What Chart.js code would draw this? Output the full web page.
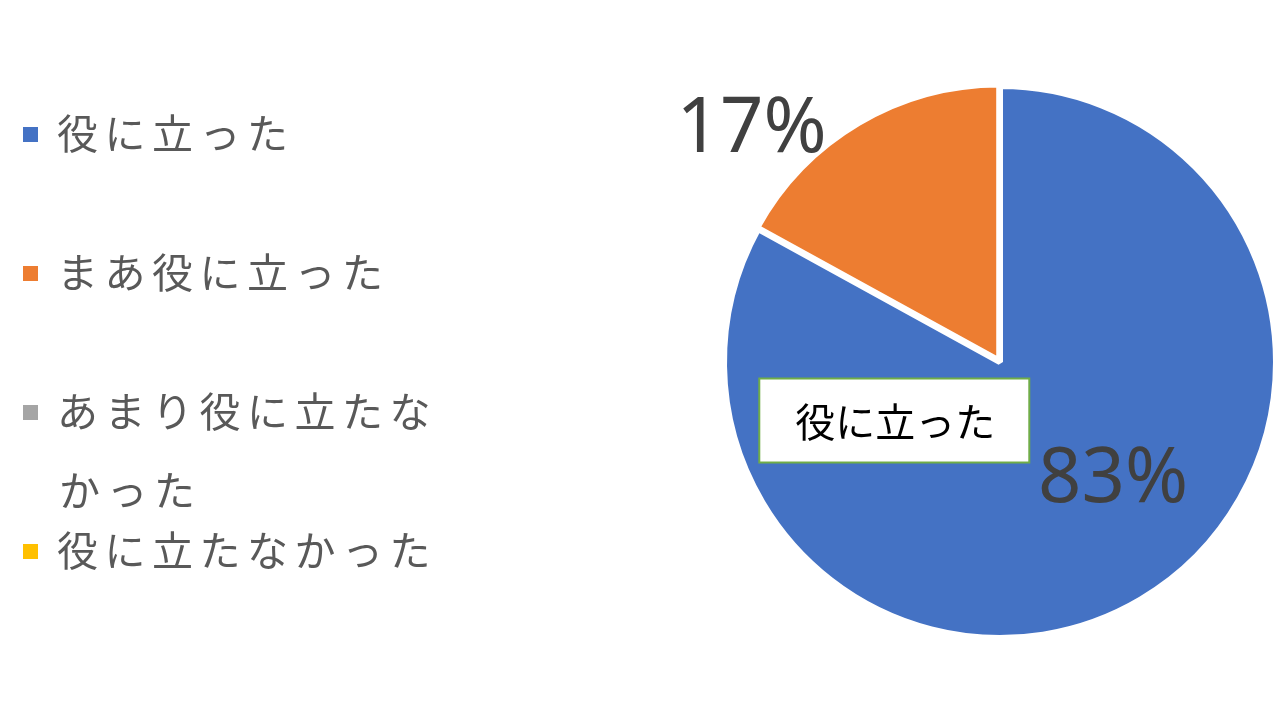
<!DOCTYPE html>
<html lang="ja">
<head>
<meta charset="utf-8">
<title>役に立ったか</title>
<script src="https://cdn.jsdelivr.net/npm/chart.js@4/dist/chart.umd.min.js"></script>
<style>
  html, body { margin: 0; padding: 0; background: #fff; }
  #wrap { width: 1280px; height: 720px; position: relative; }
</style>
</head>
<body>
<div id="wrap"><canvas id="pie" width="1280" height="720"></canvas></div>
<script>
// データ
const labels = ['役に立った', 'まあ役に立った', 'あまり役に立たなかった', '役に立たなかった']
const values = [83, 17, 0, 0]
const percentLabels = ['83%', '17%', '', '']
const colors = ['#4472C4', '#ED7D31', '#A5A5A5', '#FFC000']

const JP_FONT = '"Noto Sans CJK JP", "Noto Sans", sans-serif'

// 凡例（左側）を自前で描く
const leftLegend = {
  id: 'leftLegend',
  afterDraw(chart) {
    const ctx = chart.ctx
    const size = 41, spacing = 6.5, maxWidth = 390
    ctx.save()
    ctx.font = `${size}px ${JP_FONT}`
    ctx.textBaseline = 'middle'
    chart.data.labels.forEach((label, i) => {
      const y = 133 + i * 139
      ctx.fillStyle = chart.data.datasets[0].backgroundColor[i]
      ctx.fillRect(23, y - 6, 15, 15)

      // 一文字ずつ字間をあけて描画、幅を超えたら折り返し
      ctx.fillStyle = '#595959'
      let x = 57, line = 0
      for (const ch of label) {
        const w = ctx.measureText(ch).width + spacing
        if (x + w - 57 > maxWidth) { x = 59; line++ }
        ctx.fillText(ch, x, y + line * 79)
        x += w
      }
    })
    ctx.restore()
  }
}

// データラベルと引き出しボックス
const sliceLabels = {
  id: 'sliceLabels',
  afterDatasetsDraw(chart) {
    const ctx = chart.ctx
    const arc = chart.getDatasetMeta(0).data[0]
    const cx = arc.x, cy = arc.y, r = arc.outerRadius
    ctx.save()

    // 「役に立った」のボックス
    const bx = cx - 0.383 * r, by = cy + 0.212 * r
    ctx.fillStyle = '#fff'
    ctx.fillRect(bx - 135, by - 42, 270, 84)
    ctx.strokeStyle = '#70AD47'
    ctx.lineWidth = 2
    ctx.strokeRect(bx - 135, by - 42, 270, 84)
    ctx.fillStyle = '#000'
    ctx.font = `40px ${JP_FONT}`
    ctx.textAlign = 'center'
    ctx.textBaseline = 'middle'
    ctx.fillText(chart.data.labels[0], bx + 1, by + 1)

    // パーセント表示
    const spots = [[0.41, 0.43], [-0.90, -0.84]]
    ctx.font = '76px "Noto Sans", sans-serif'
    ctx.fillStyle = '#404040'
    spots.forEach(([fx, fy], i) => {
      if (!percentLabels[i]) return
      ctx.fillText(percentLabels[i], cx + fx * r, cy + fy * r)
    })
    ctx.restore()
  }
}

new Chart(document.getElementById('pie'), {
  type: 'pie',
  data: {
    labels: labels,
    datasets: [{
      data: values,
      backgroundColor: colors,
      borderColor: '#fff',
      borderWidth: 6,
      offset: [0, 6, 0, 0]
    }]
  },
  options: {
    responsive: false,
    animation: false,
    radius: 276,
    layout: { padding: { left: 720, right: 0, top: 4, bottom: 0 } },
    plugins: {
      legend: { display: false },
      tooltip: { enabled: false }
    }
  },
  plugins: [leftLegend, sliceLabels]
})
</script>
</body>
</html>
